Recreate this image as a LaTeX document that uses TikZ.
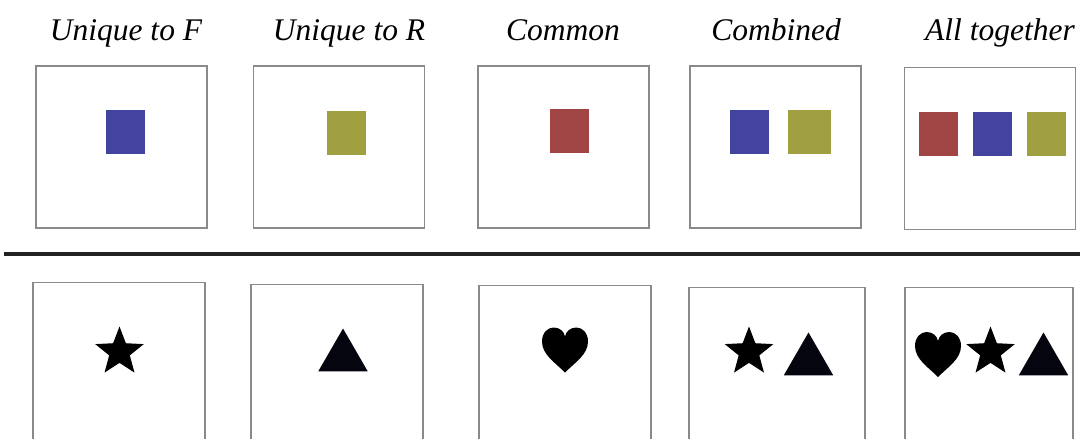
\documentclass[tikz,border=0pt]{standalone}
\usepackage{fontspec}
\setmainfont{Liberation Serif}
\usetikzlibrary{shapes.geometric}
\definecolor{sqblue}{HTML}{4343A0}
\definecolor{sqolive}{HTML}{A0A040}
\definecolor{sqred}{HTML}{A04444}
\definecolor{boxgray}{HTML}{8A8A8A}
\definecolor{rulegray}{HTML}{222222}
\definecolor{trink}{HTML}{05050F}
\tikzset{
  panel/.style={draw=boxgray, line width=1.1pt, fill=white, inner sep=0pt, minimum width=171pt, minimum height=162pt},
  lowpanel/.style={draw=boxgray, line width=1.1pt, fill=white, inner sep=0pt, minimum width=172pt, minimum height=200pt, anchor=north},
  sq/.style={inner sep=0pt, minimum width=39pt, minimum height=44pt},
  lab/.style={font=\fontsize{31.5}{36}\selectfont\itshape, anchor=base, inner sep=0pt},
  starsym/.style={star, star points=5, star point ratio=2.35, fill=black, inner sep=0pt, minimum size=51pt},
  trisym/.style={regular polygon, regular polygon sides=3, fill=trink, inner sep=0pt, minimum size=57pt},
  heartsym/.pic={\fill[black] (0,22) .. controls (-10,12) and (-23,4) .. (-23,-9) .. controls (-23,-18) and (-17,-23) .. (-11.5,-23) .. controls (-5,-23) and (-1,-19) .. (0,-14) .. controls (1,-19) and (5,-23) .. (11.5,-23) .. controls (17,-23) and (23,-18) .. (23,-9) .. controls (23,4) and (10,12) .. (0,22) -- cycle;}
}
\begin{document}
\begin{tikzpicture}[x=1pt,y=-1pt]
\useasboundingbox (0,0) rectangle (1080,439);
\clip (0,0) rectangle (1080,439);
% labels
\node[lab] (l1) at (126,40) {Unique to F};
\node[lab] (l2) at (349,40) {Unique to R};
\node[lab] (l3) at (563,40) {Common};
\node[lab] (l4) at (776,40) {Combined};
\node[lab] (l5) at (1000,40) {All together};
% top panels
\node[panel] (t1) at (121.5,147) {};
\node[panel] (t2) at (339,147) {};
\node[panel] (t3) at (563.5,147) {};
\node[panel] (t4) at (775.5,147) {};
\node[panel] (t5) at (990,148.5) {};
\node[sq, fill=sqblue] (s1) at (125.5,132) {};
\node[sq, fill=sqolive] (s2) at (346.5,133) {};
\node[sq, fill=sqred] (s3) at (569.5,131) {};
\node[sq, fill=sqblue] (s4a) at (749.5,132) {};
\node[sq, fill=sqolive, minimum width=43pt] (s4b) at (809.5,132) {};
\node[sq, fill=sqred] (s5a) at (938.5,133.5) {};
\node[sq, fill=sqblue] (s5b) at (992.5,133.5) {};
\node[sq, fill=sqolive] (s5c) at (1046.5,133.5) {};
% rule
\coordinate (rl) at (4,254);
\coordinate (rr) at (1080,254);
\draw[rulegray, line width=3.3pt] (rl) -- (rr);
% bottom panels
\node[lowpanel] (b1) at (119,282) {};
\node[lowpanel] (b2) at (337,284) {};
\node[lowpanel] (b3) at (565,285) {};
\node[lowpanel, minimum width=176pt] (b4) at (777,287) {};
\node[lowpanel, minimum width=168pt] (b5) at (989,287) {};
% symbols
\node[starsym] (st1) at (119.5,352) {};
\node[trisym] (tr2) at (343,357) {};
\pic (h3) at (565,350.5) {heartsym};
\node[starsym] (st4) at (749,352) {};
\node[trisym] (tr4) at (808.5,361) {};
\pic (h5) at (938,355) {heartsym};
\node[starsym] (st5) at (990.5,352) {};
\node[trisym] (tr5) at (1043.5,361) {};
\end{tikzpicture}
\end{document}
